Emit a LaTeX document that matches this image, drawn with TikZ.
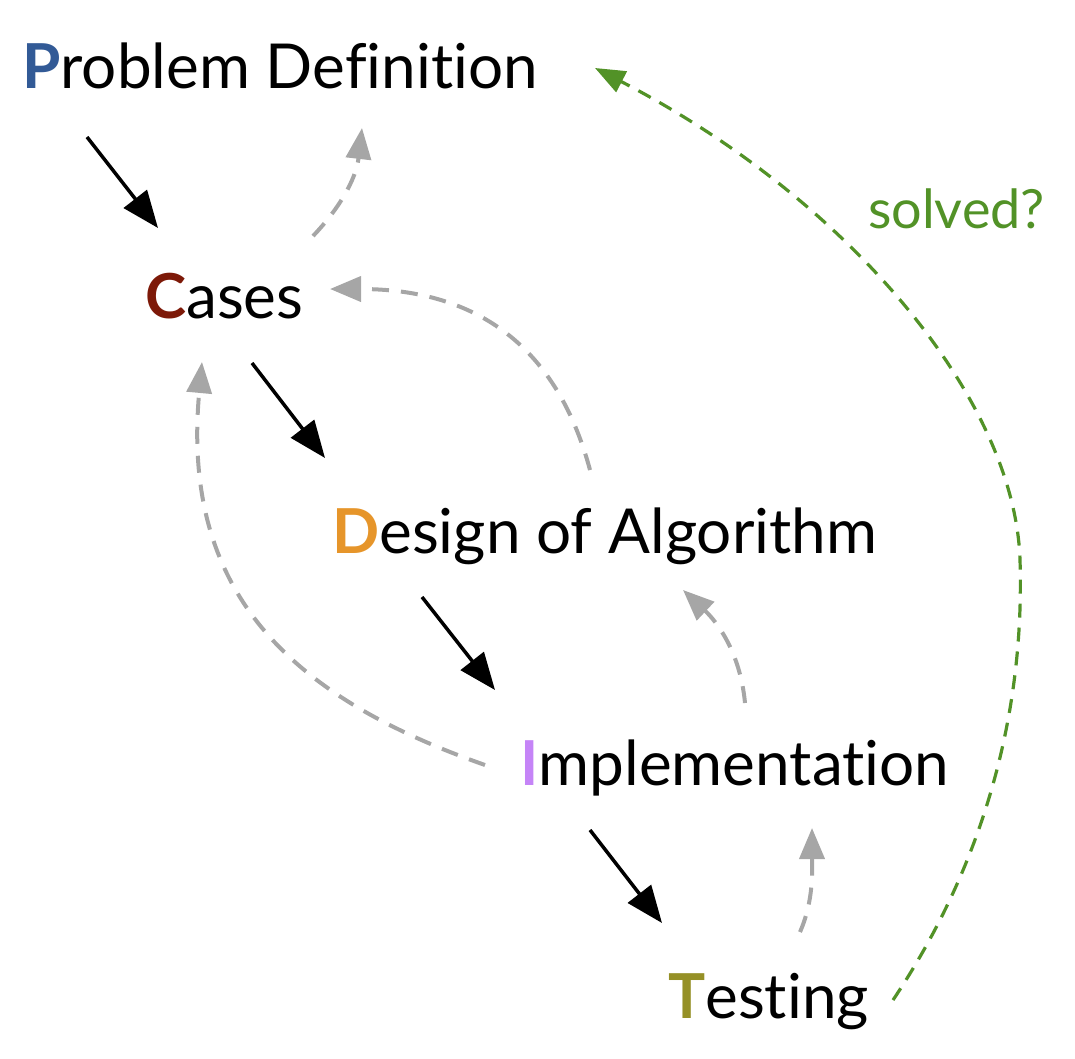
\documentclass[tikz,border=0pt]{standalone}
\usepackage{fontspec}
\setmainfont[Ligatures=NoCommon]{Lato}
\usetikzlibrary{arrows.meta}
\definecolor{cP}{HTML}{325A96}
\definecolor{cC}{HTML}{7D1908}
\definecolor{cD}{HTML}{E6952A}
\definecolor{cI}{HTML}{C584F7}
\definecolor{cT}{HTML}{959026}
\definecolor{cG}{HTML}{529227}
\definecolor{cGray}{HTML}{A6A6A6}
\tikzset{
  lbl/.style={anchor=base west, inner sep=0pt, font=\fontsize{62pt}{64pt}\selectfont},
  mainarrow/.style={line width=3.5pt, -{Triangle[length=37pt,width=29pt]}},
  backarrow/.style={line width=4pt, cGray, dash pattern=on 17pt off 12pt, -{Triangle[length=31pt,width=25pt]}},
  solvedarrow/.style={line width=3.2pt, cG, dash pattern=on 14pt off 10pt, -{Triangle[length=30pt,width=23pt]}}
}
\begin{document}
\begin{tikzpicture}[x=1pt,y=-1pt]
\useasboundingbox (0,0) rectangle (1075,1058);
\node[lbl] (P) at (22,88) {\textcolor{cP}{\bfseries P}roblem Definition};
\node[lbl] (C) at (145,318) {\textcolor{cC}{\bfseries C}ases};
\node[lbl] (D) at (332,553) {\textcolor{cD}{\bfseries D}esign of Algorithm};
\node[lbl] (I) at (520,785) {\textcolor{cI}{\bfseries I}mplementation};
\node[lbl] (T) at (668,1018) {\textcolor{cT}{\bfseries T}esting};
\node[anchor=base west, inner sep=0pt, text=cG, font=\fontsize{54pt}{56pt}\selectfont] (S) at (868,228) {solved?};
% named end points
\coordinate (p1s) at (87,137);   \coordinate (p1e) at (158,228);
\coordinate (p2s) at (252,363);  \coordinate (p2e) at (325,458);
\coordinate (p3s) at (422,597);  \coordinate (p3e) at (495,690);
\coordinate (p4s) at (590,830);  \coordinate (p4e) at (662,923);
\coordinate (ba1) at (313,236);  \coordinate (ba2) at (362,128);
\coordinate (bb1) at (590,470);  \coordinate (bb2) at (330,289);
\coordinate (bc1) at (485,765);  \coordinate (bc2) at (202,362);
\coordinate (bd1) at (745,703);  \coordinate (bd2) at (683,590);
\coordinate (be1) at (800,932);  \coordinate (be2) at (812,828);
\coordinate (g1) at (893,1000);  \coordinate (gm) at (1020,560); \coordinate (g2) at (595,68);
% forward arrows
\draw[mainarrow] (p1s) -- (p1e);
\draw[mainarrow] (p2s) -- (p2e);
\draw[mainarrow] (p3s) -- (p3e);
\draw[mainarrow] (p4s) -- (p4e);
% backward arrows
\draw[backarrow] (ba1) .. controls (338,210) and (356,180) .. (ba2);
\draw[backarrow] (bb1) .. controls (555,340) and (470,289) .. (bb2);
\draw[backarrow] (bc1) .. controls (300,700) and (180,600) .. (bc2);
\draw[backarrow] (bd1) .. controls (740,650) and (715,620) .. (bd2);
\draw[backarrow] (be1) .. controls (814,900) and (812,870) .. (be2);
% solved
\draw[solvedarrow] (g1) .. controls (980,870) and (1025,720) .. (gm) .. controls (1015,400) and (850,200) .. (g2);
\end{tikzpicture}
\end{document}
